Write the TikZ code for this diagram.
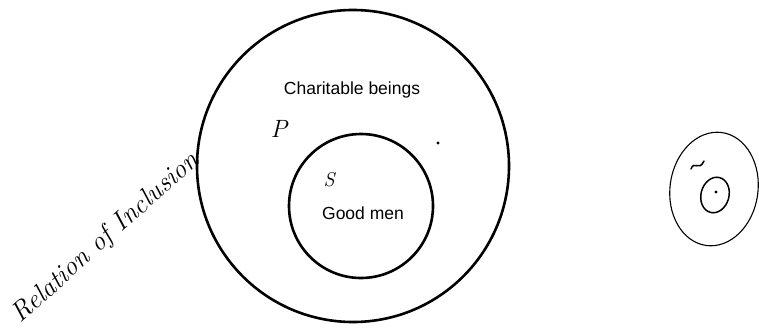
\documentclass[tikz,border=0pt]{standalone}
\usepackage{fontspec}
\setsansfont{Liberation Sans}
\begin{document}
\begin{tikzpicture}[x=1pt,y=-1pt,
  ring/.style={line width=2.6pt},
  thinring/.style={line width=1.1pt},
  lbl/.style={font=\sffamily\fontsize{17.5}{20}\selectfont, inner sep=0pt},
  hand/.style={font=\itshape\fontsize{25}{28}\selectfont, inner sep=0pt}]
\useasboundingbox (0,0) rectangle (759,327);
% outer and inner circles
\draw[ring] (353,166) circle[radius=156];
\draw[ring] (361,206) circle[radius=72];
% texts
\node[lbl] (pl) at (352,90) {Charitable beings};
\node[lbl] (sl) at (363,213) {Good men};
\node[hand] (P) at (279,129) {P};
\node[hand, font=\itshape\fontsize{20}{22}\selectfont] (S) at (329,180) {S};
\fill (438,143) circle[radius=1.6];
\node[hand, font=\itshape\fontsize{27}{30}\selectfont, rotate=42] (rel) at (106,238) {Relation of Inclusion};
% small sketch on the right
\draw[thinring, rotate around={-8:(714,189)}] (714,189) ellipse[x radius=44, y radius=57];
\draw[line width=1.5pt, line cap=round] (691,169) .. controls (694,160) and (699,172) .. (704,161);
\draw[line width=1.5pt, rotate around={-15:(715,195)}] (715,195) ellipse[x radius=14, y radius=18];
\fill (716,192) circle[radius=1.7];
\end{tikzpicture}
\end{document}
